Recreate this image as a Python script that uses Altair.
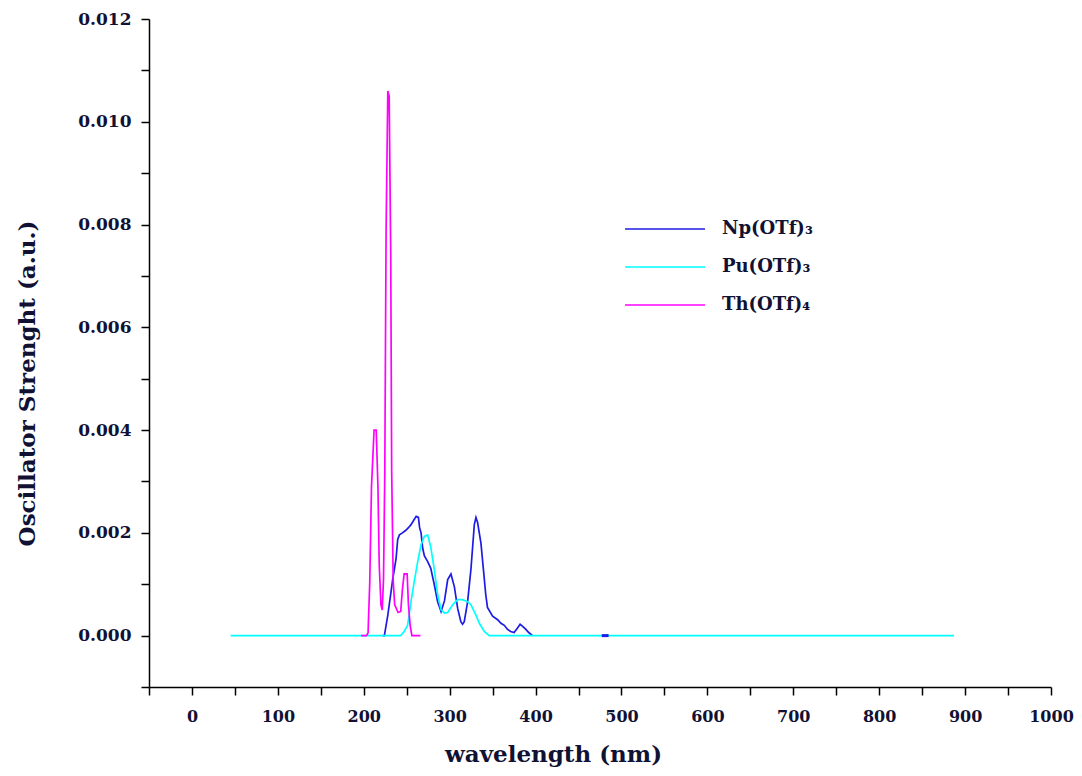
import altair as alt
import pandas as pd

# Np(OTf)3 spectrum (wavelength nm, oscillator strength)
np_wl = [222, 224, 228, 231.8, 233.7, 235.7, 237.6, 239.5, 241.5, 245, 249, 252, 255, 258, 261,
         263.6, 265, 266.7, 268.6, 270.6, 274.4, 278, 282, 286, 290, 294, 297.7, 301.5, 305.5,
         309.3, 313, 315, 317, 320.9, 324.8, 328.7, 330.6, 332.5, 336.4, 339.5, 342, 344, 350,
         355.8, 359.7, 363.6, 367.4, 371, 375, 379, 382, 385, 388.7, 392, 396.5]
np_f = [0, 0, 0.0004, 0.00086, 0.0011, 0.0013, 0.0015, 0.00187, 0.00196, 0.002, 0.00205, 0.0021,
        0.00216, 0.00224, 0.00232, 0.0023, 0.0021, 0.002, 0.0017, 0.00155, 0.00144, 0.00131,
        0.001, 0.00066, 0.00047, 0.00068, 0.00109, 0.0012, 0.00095, 0.00053, 0.00027, 0.00022,
        0.00027, 0.00066, 0.0013, 0.00216, 0.0023, 0.0022, 0.0018, 0.00125, 0.0008, 0.00055,
        0.00038, 0.00031, 0.00024, 0.0002, 0.00012, 0.00008, 0.00006, 0.00015, 0.00022,
        0.00018, 0.00012, 0.00006, 0]
# small Np fragment at ~480 nm
np_dash_wl = [477, 485]
np_dash_f = [0, 0]

# Pu(OTf)3
pu_wl = [45, 243, 247, 251, 255, 259, 262.8, 266.7, 270.6, 274.4, 278, 282, 286, 290, 294,
         297.7, 303.5, 309.3, 315, 320.9, 324.8, 330.6, 334.5, 340.3, 346, 887]
pu_f = [0, 0, 0.00008, 0.0002, 0.00066, 0.00108, 0.00144, 0.00177, 0.00193, 0.00196, 0.00172,
        0.0013, 0.0008, 0.0005, 0.00044, 0.00045, 0.0006, 0.0007, 0.0007, 0.00066, 0.0006,
        0.0004, 0.00024, 0.00008, 0, 0]

# Th(OTf)4
th_wl = [197, 203, 205, 207, 209, 212, 214.5, 216.5, 218, 220, 221.5, 223, 224.5, 226, 228,
         229.6, 231.4, 232.5, 234.3, 236, 240, 243, 245, 247, 250.5, 252, 254, 256, 266]
th_f = [0, 0, 0.00005, 0.00105, 0.0029, 0.004, 0.004, 0.0029, 0.00138, 0.0006, 0.0005, 0.0011,
        0.0032, 0.0079, 0.0106, 0.0105, 0.0074, 0.0032, 0.00105, 0.0006, 0.00045, 0.00047,
        0.0009, 0.0012, 0.0012, 0.0006, 0.0002, 0, 0]

series = ["Np(OTf)\u2083", "Pu(OTf)\u2083", "Th(OTf)\u2084"]
colors = ["#1c1ce6", "#00ffff", "#ff00ff"]

x_ticks = list(range(-50, 1001, 50))
y_ticks = [round(-0.001 + 0.001 * i, 3) for i in range(14)]

rows = []
for name, wl, f in zip(series, [np_wl, pu_wl, th_wl], [np_f, pu_f, th_f]):
    for i, (w, v) in enumerate(zip(wl, f)):
        rows.append({"series": name, "wl": w, "f": v, "ord": i})
df = pd.DataFrame(rows)
dash_df = pd.DataFrame({"wl": np_dash_wl, "f": np_dash_f})

FONT = "DejaVu Serif"
TXT = "#111133"

x_enc = alt.X(
    "wl:Q",
    scale=alt.Scale(domain=[-50, 1000], nice=False, zero=False),
    axis=alt.Axis(
        values=x_ticks,
        labelExpr="datum.value % 100 == 0 ? datum.label : ''",
        format="d",
        labelFlush=False,
        labelOverlap=False,
        labelFontSize=16,
        title="wavelength (nm)",
        titleX=404,
        titleY=67,
        titleAlign="center",
        titleBaseline="middle",
        titleFontSize=23,
        labelPadding=13,
        labelBaseline="top",
    ),
)
y_enc = alt.Y(
    "f:Q",
    scale=alt.Scale(domain=[-0.001, 0.012], nice=False, zero=False),
    axis=alt.Axis(
        values=y_ticks,
        labelExpr="abs(round(datum.value * 1000)) % 2 == 0 ? format(datum.value, '.3f') : ''",
        labelFlush=False,
        labelOverlap=False,
        labelFontSize=17,
        title="Oscillator Strenght (a.u.)",
        titleX=-122,
        titleY=364,
        titleAngle=270,
        titleAlign="center",
        titleBaseline="middle",
        titleFontSize=23,
        labelPadding=10,
    ),
)
color_enc = alt.Color(
    "series:N",
    scale=alt.Scale(domain=series, range=colors),
    legend=alt.Legend(
        title=None,
        orient="none",
        legendX=505,
        legendY=199,
        direction="vertical",
        symbolType="M-4,0H4",
        symbolSize=400,
        symbolStrokeWidth=1.6,
        labelOffset=46,
        rowPadding=18,
        labelFont=FONT,
        labelFontWeight="bold",
        labelFontSize=18,
        labelColor=TXT,
        padding=0,
    ),
)

layers = []
for s in series:
    layers.append(
        alt.Chart(df)
        .transform_filter(alt.datum.series == s)
        .mark_line(strokeWidth=1.7)
        .encode(x=x_enc, y=y_enc, color=color_enc, order="ord:Q")
    )
layers.append(
    alt.Chart(dash_df)
    .mark_line(strokeWidth=3, color=colors[0])
    .encode(x=x_enc, y=y_enc)
)

chart = (
    alt.layer(*layers)
    .properties(
        width=902,
        height=668,
        autosize=alt.AutoSizeParams(type="none"),
        padding={"left": 141, "top": 11, "right": 23, "bottom": 81},
        background="white",
    )
    .configure_view(stroke=None)
    .configure_axis(
        grid=False,
        domainColor="black",
        domainWidth=1.5,
        tickColor="black",
        tickWidth=1.5,
        tickSize=8,
        labelFont=FONT,
        labelFontWeight="bold",
        labelColor=TXT,
        titleFont=FONT,
        titleFontWeight="bold",
        titleColor=TXT,
    )
)

chart.save("out.html", embed_options={"renderer": "svg", "actions": False})
